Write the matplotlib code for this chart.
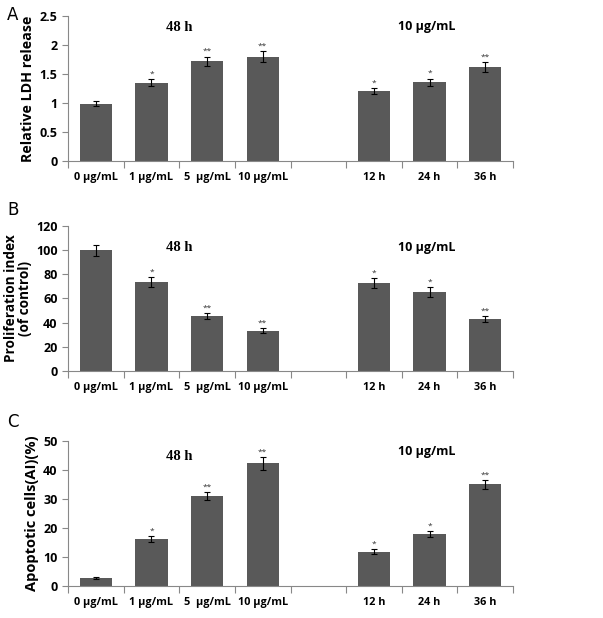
import matplotlib
matplotlib.use("Agg")
import matplotlib.pyplot as plt
import numpy as np

plt.rcParams['font.family'] = ['Open Sans', 'DejaVu Sans']

# categories (5th slot is an empty gap)
categories = ["0 μg/mL", "1 μg/mL", "5  μg/mL", "10 μg/mL", "", "12 h", "24 h", "36 h"]

ldh = [0.99, 1.35, 1.72, 1.80, None, 1.20, 1.36, 1.62]
ldh_err = [0.05, 0.06, 0.08, 0.09, None, 0.05, 0.06, 0.08]
ldh_sig = ["", "*", "**", "**", "", "*", "*", "**"]

prolif = [100, 73.5, 45.5, 33.5, None, 73, 65.5, 43]
prolif_err = [4.5, 4, 2.5, 2, None, 4, 4, 2.5]
prolif_sig = ["", "*", "**", "**", "", "*", "*", "**"]

apop = [2.7, 16.3, 31.0, 42.3, None, 11.8, 17.8, 35.0]
apop_err = [0.3, 1.0, 1.5, 2.2, None, 0.8, 1.0, 1.6]
apop_sig = ["", "*", "**", "**", "", "*", "*", "**"]

BAR = "#595959"


def panel(fig, rect, vals, errs, sig, ymax, step, ylabel, ylab_size, letter,
          letter_y, y48, y10, y_fmt):
    ax = fig.add_axes(rect)
    x = np.arange(len(categories))
    for i, (v, e, s) in enumerate(zip(vals, errs, sig)):
        if v is None:
            continue
        ax.bar(i, v, width=0.58, color=BAR, zorder=2)
        ax.errorbar(i, v, yerr=e, color="black", capsize=2, elinewidth=0.8,
                    capthick=0.8, zorder=3)
        if s:
            ax.text(i, v + e + ymax * 0.01, s, ha="center", va="bottom",
                    fontsize=6, color="#333333")
    ax.set_xlim(-0.5, len(categories) - 0.5)
    ax.set_ylim(0, ymax)
    ticks = np.arange(0, ymax + step / 2, step)
    ax.set_yticks(ticks)
    ax.set_yticklabels([y_fmt(t) for t in ticks], fontsize=9, fontweight="bold")
    # ticks at slot boundaries, labels at centers
    ax.set_xticks(np.arange(-0.5, len(categories), 1.0))
    ax.set_xticklabels([])
    ax.set_xticks(x, minor=True)
    ax.set_xticklabels(categories, minor=True, fontsize=7.8, fontweight="bold")
    ax.tick_params(axis="x", which="minor", length=0, pad=8)
    ax.tick_params(axis="x", which="major", length=5, color="#888888")
    ax.tick_params(axis="y", length=4, color="#888888")
    for sp in ["top", "right"]:
        ax.spines[sp].set_visible(False)
    for sp in ["left", "bottom"]:
        ax.spines[sp].set_color("#888888")
    ax.set_ylabel(ylabel, fontsize=ylab_size, fontweight="bold", labelpad=3,
                  linespacing=1.0)
    ax.text(1.5, ymax * y48, "48 h", ha="center", va="center",
            fontsize=10.5, fontweight="bold", family="Liberation Serif")
    ax.text(5.95, ymax * y10, "10 μg/mL", ha="center", va="center",
            fontsize=9, fontweight="bold")
    fig.text(0.012, letter_y, letter, fontsize=12, ha="left", va="center",
             family="DejaVu Sans")
    return ax


fig = plt.figure(figsize=(6.03, 6.18), dpi=100)
h = 0.2346
w = 0.738
left = 0.1128
panel(fig, [left, 0.7395, w, h], ldh, ldh_err, ldh_sig, 2.5, 0.5,
      "Relative LDH release", 10.3, "A", 0.976, 0.92, 0.93, lambda t: "%g" % t)
panel(fig, [left, 0.3997, w, h], prolif, prolif_err, prolif_sig, 120, 20,
      "Proliferation index\n(of control)", 9.8, "B", 0.660, 0.85, 0.85,
      lambda t: "%d" % t)
panel(fig, [left, 0.0518, w, h], apop, apop_err, apop_sig, 50, 10,
      "Apoptotic cells(AI)(%)", 10.5, "C", 0.317, 0.89, 0.93,
      lambda t: "%d" % t)

fig.savefig("out.png", dpi=100)
